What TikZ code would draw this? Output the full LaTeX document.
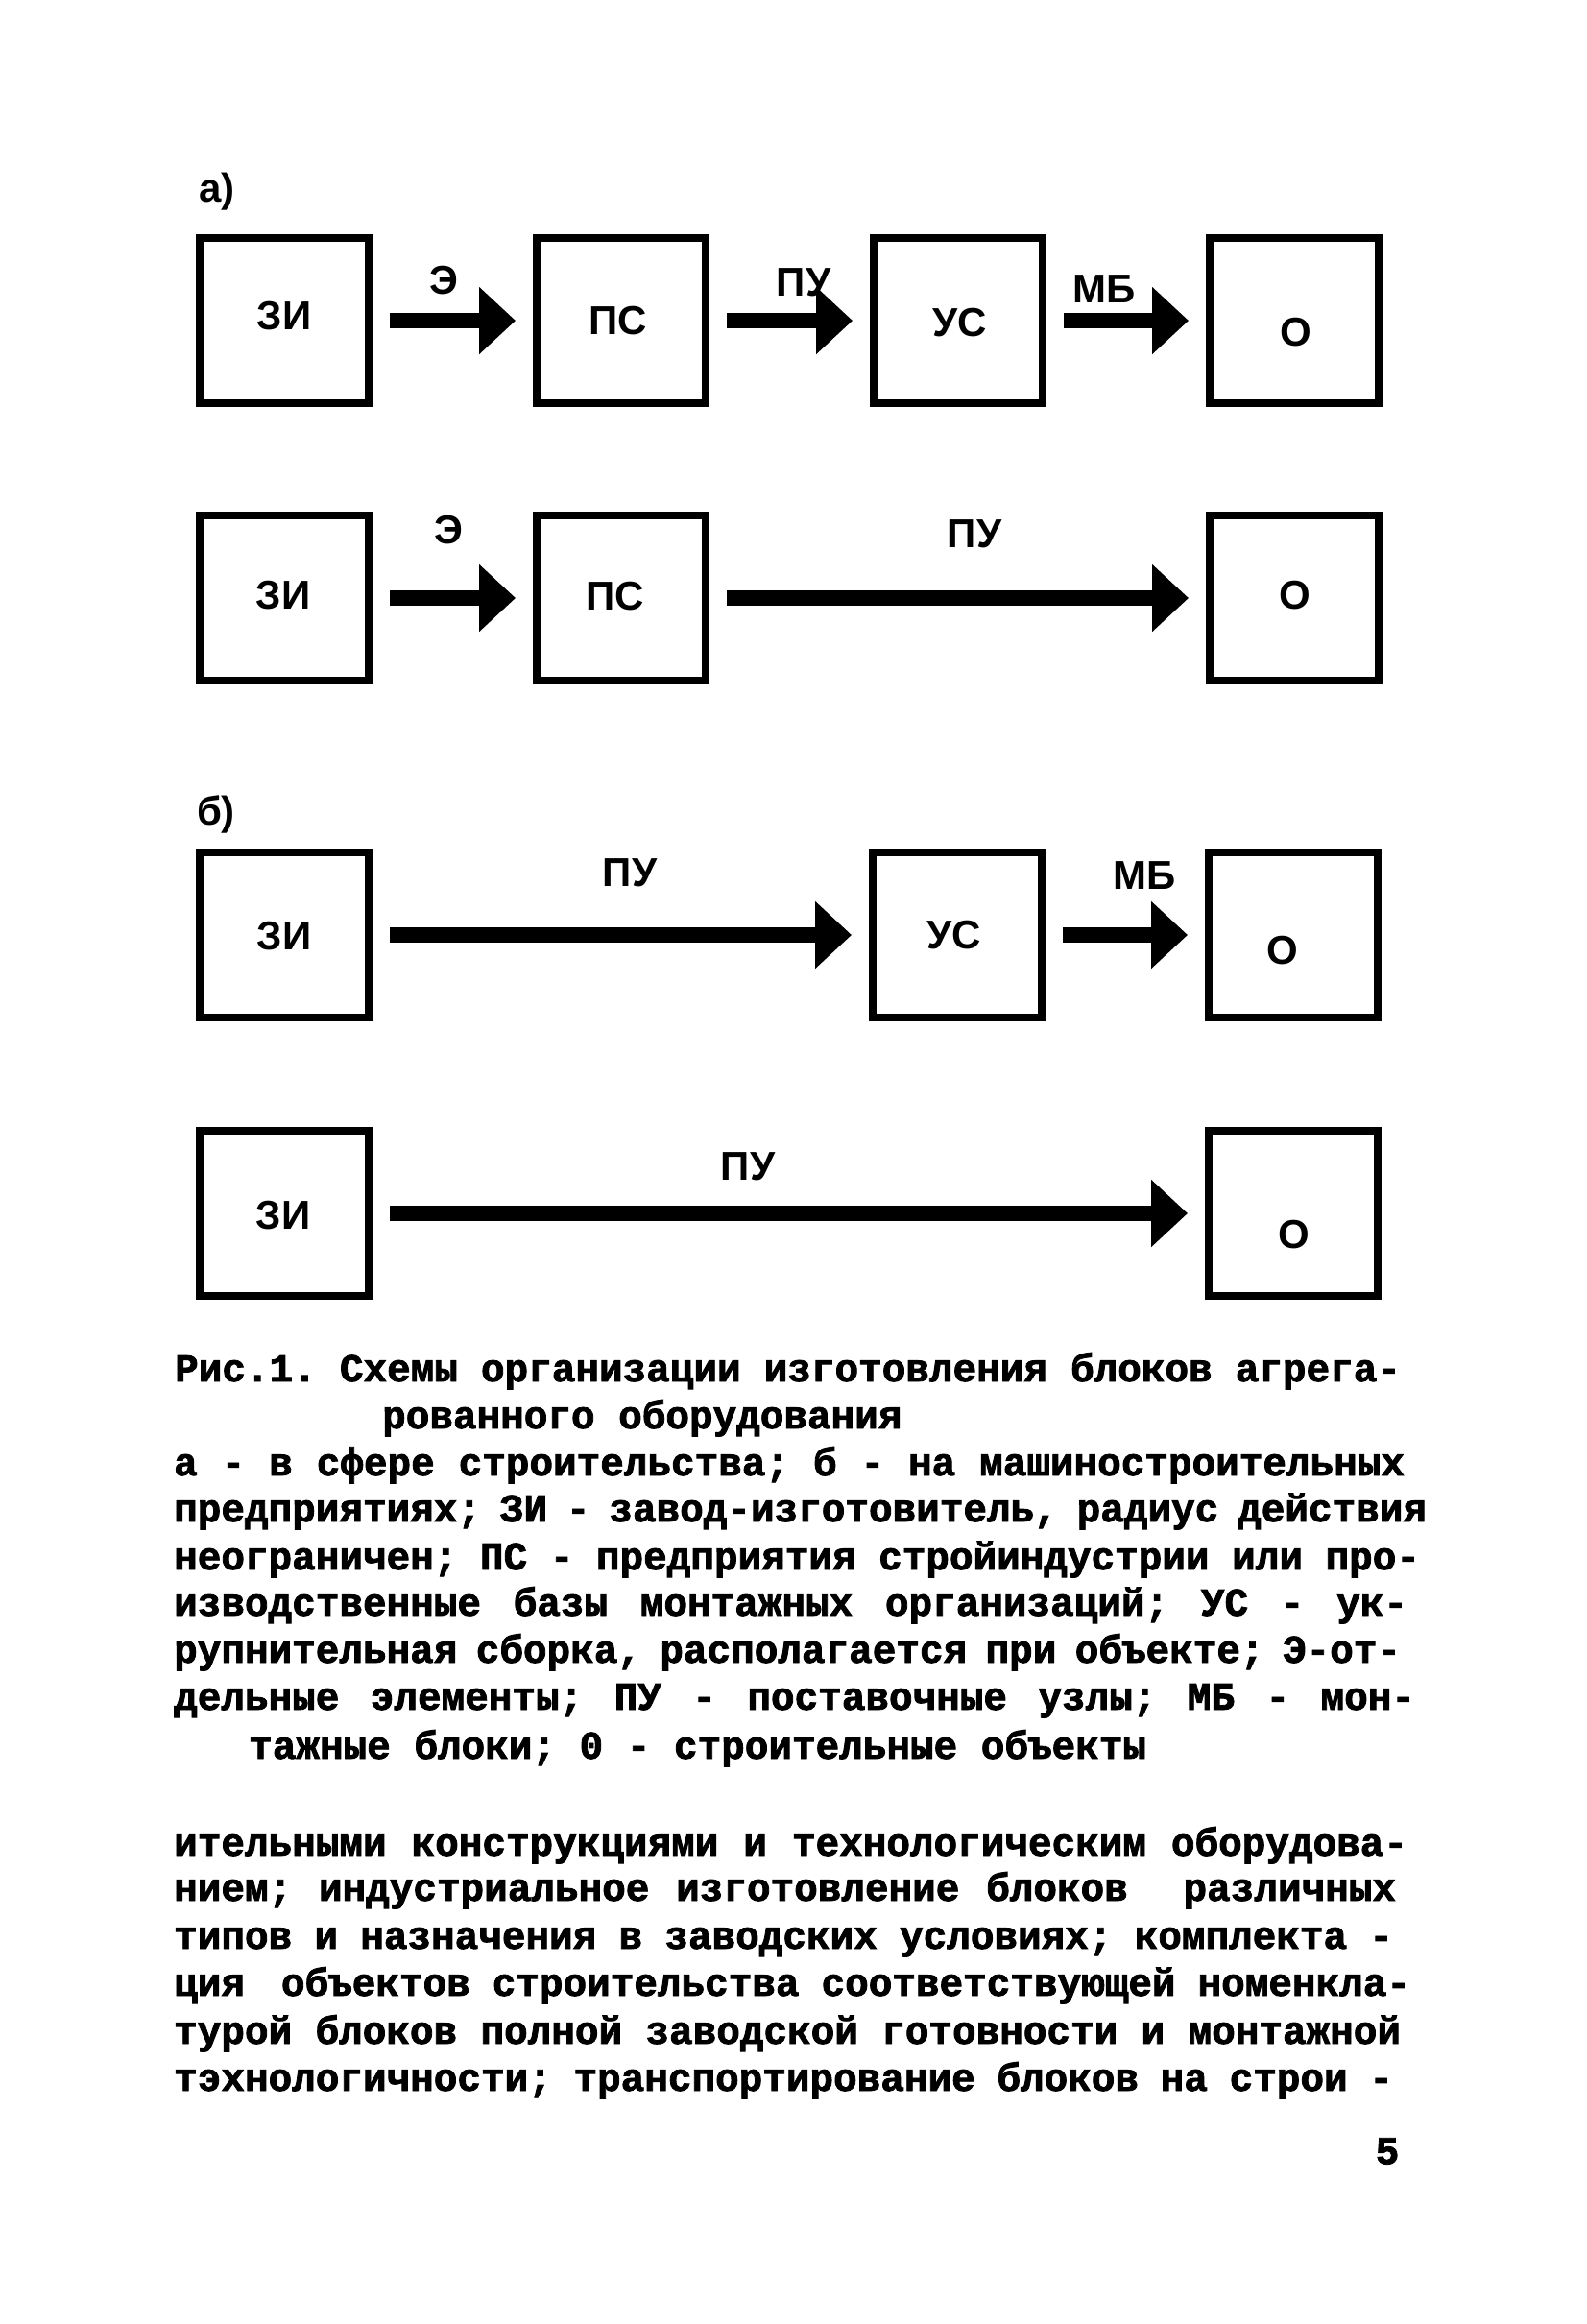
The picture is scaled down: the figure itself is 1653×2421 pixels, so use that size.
\documentclass[tikz,border=0pt]{standalone}
\usepackage{fontspec}
\setmainfont{Liberation Sans}
\newfontfamily\typew{Liberation Mono}[BoldFeatures={FakeBold=2}]
\usetikzlibrary{arrows.meta}
\newcommand\boxfont{\bfseries\fontsize{42}{48}\selectfont}
\newcommand\twfont{\typew\bfseries\fontsize{41}{48}\selectfont\frenchspacing\spaceskip=0.6em plus 1.5em minus 0.3em\relax}
\newcommand\jl[2]{\makebox[#1pt][s]{#2}}
\begin{document}
\begin{tikzpicture}[x=1pt,y=-1pt,
  box/.style={draw, line width=8pt, minimum width=176pt, minimum height=172pt, inner sep=0pt},
  bigarrow/.style={line width=16pt, -{Triangle[length=38pt,width=68pt]}, shorten <=18pt, shorten >=18pt},
  lbl/.style={font=\boxfont, inner sep=0pt},
  txt/.style={font=\twfont, anchor=base west, inner sep=0pt}]
\useasboundingbox (0,0) rectangle (1653,2421);

% part a)
\node[lbl] (la) at (226,200) {а)};
\node[box] (zia) at (296,334) {};
\node[box] (psa) at (647,334) {};
\node[box] (usa) at (998,334) {};
\node[box] (oa)  at (1348,334) {};
\node[lbl] (tzia) at (296,329) {ЗИ};
\node[lbl] (tpsa) at (644,334) {ПС};
\node[lbl] (tusa) at (1000,336) {УС};
\node[lbl] (toa)  at (1350,346) {О};
\node[lbl] (e1) at (462,292) {Э};
\node[lbl] (pu1) at (837,294) {ПУ};
\node[lbl] (mb1) at (1150,301) {МБ};
\draw[bigarrow] (zia.east) -- (psa.west);
\draw[bigarrow] (psa.east) -- (usa.west);
\draw[bigarrow] (usa.east) -- (oa.west);

\node[box] (zib) at (296,623) {};
\node[box] (psb) at (647,623) {};
\node[box] (ob)  at (1348,623) {};
\node[lbl] (tzib) at (295,620) {ЗИ};
\node[lbl] (tpsb) at (641,621) {ПС};
\node[lbl] (tob)  at (1349,620) {О};
\node[lbl] (e2) at (467,552) {Э};
\node[lbl] (pu2) at (1015,556) {ПУ};
\draw[bigarrow] (zib.east) -- (psb.west);
\draw[bigarrow] (psb.east) -- (ob.west);

% part b)
\node[lbl] (lb) at (225,848) {б)};
\node[box] (zic) at (296,974) {};
\node[box] (usc) at (997,974) {};
\node[box] (oc)  at (1347,974) {};
\node[lbl] (tzic) at (296,975) {ЗИ};
\node[lbl] (tusc) at (994,974) {УС};
\node[lbl] (toc)  at (1336,990) {О};
\node[lbl] (pu3) at (656,909) {ПУ};
\node[lbl] (mb3) at (1192,912) {МБ};
\draw[bigarrow] (zic.east) -- (usc.west);
\draw[bigarrow] (usc.east) -- (oc.west);

\node[box] (zid) at (296,1264) {};
\node[box] (od)  at (1347,1264) {};
\node[lbl] (tzid) at (295,1266) {ЗИ};
\node[lbl] (tod)  at (1348,1286) {О};
\node[lbl] (pu4) at (779,1215) {ПУ};
\draw[bigarrow] (zid.east) -- (od.west);

% caption
\node[txt] (c1) at (182,1439) {\jl{1277}{Рис.1. Схемы организации изготовления блоков агрега-}};
\node[txt] (c2) at (398,1488) {рованного оборудования};
\node[txt] (c3) at (181,1537) {\jl{1282}{а - в сфере строительства; б - на машиностроительных}};
\node[txt] (c4) at (181,1585) {\jl{1305}{предприятиях; ЗИ - завод-изготовитель, радиус действия}};
\node[txt] (c5) at (181,1635) {\jl{1298}{неограничен; ПС - предприятия стройиндустрии или про-}};
\node[txt] (c6) at (181,1683) {\jl{1285}{изводственные базы монтажных организаций; УС - ук-}};
\node[txt] (c7) at (181,1732) {\jl{1278}{рупнительная сборка, располагается при объекте; Э-от-}};
\node[txt] (c8) at (181,1781) {\jl{1293}{дельные элементы; ПУ - поставочные узлы; МБ - мон-}};
\node[txt] (c9) at (259,1832) {тажные блоки; 0 - строительные объекты};

% body text
\node[txt] (b1) at (181,1933) {\jl{1285}{ительными конструкциями и технологическим оборудова-}};
\node[txt] (b2) at (181,1980) {\jl{1273}{нием; индустриальное изготовление блоков\hspace{30pt} различных}};
\node[txt] (b3) at (181,2030) {\jl{1270}{типов и назначения в заводских условиях; комплекта -}};
\node[txt] (b4) at (181,2079) {\jl{1288}{ция\hspace{15pt} объектов строительства соответствующей номенкла-}};
\node[txt] (b5) at (181,2129) {\jl{1278}{турой блоков полной заводской готовности и монтажной}};
\node[txt] (b6) at (181,2178) {\jl{1270}{тэхнологичности; транспортирование блоков на строи -}};

\node[font=\twfont, inner sep=0pt] (pg) at (1445,2241) {5};
\end{tikzpicture}
\end{document}
